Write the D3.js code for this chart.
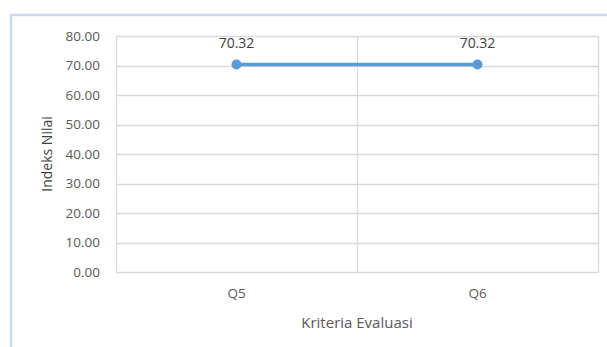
<!DOCTYPE html>
<html>
<head>
<meta charset="utf-8">
<script src="https://cdn.jsdelivr.net/npm/d3@7"></script>
<style>
  html, body { margin: 0; padding: 0; background: #fff; }
  svg { display: block; }
  text { font-family: "Open Sans", "Noto Sans", sans-serif; }
</style>
</head>
<body>
<svg id="chart" width="607" height="347"></svg>
<script>
// Index scores per evaluation criterion
const categories = ["Q5", "Q6"];
const values = [70.32, 70.32];
const yTicks = [0, 10, 20, 30, 40, 50, 60, 70, 80];
const yTitle = "Indeks Nilai";
const xTitle = "Kriteria Evaluasi";

const svg = d3.select("#chart");
const W = 607, H = 347;
const plot = { left: 116, right: 598, top: 36, bottom: 272 };

// outer chart frame
svg.append("rect")
  .attr("x", 11).attr("y", 15)
  .attr("width", W).attr("height", H)
  .attr("fill", "none")
  .attr("stroke", "#c9dbef")
  .attr("stroke-width", 2.5);

const x = d3.scaleBand().domain(categories).range([plot.left, plot.right]);
const y = d3.scaleLinear().domain([0, 80]).range([plot.bottom, plot.top]);

// horizontal gridlines
svg.append("g").selectAll("line").data(yTicks).join("line")
  .attr("x1", plot.left).attr("x2", plot.right)
  .attr("y1", d => Math.round(y(d)) + 0.5).attr("y2", d => Math.round(y(d)) + 0.5)
  .attr("stroke", "#d9d9d9").attr("stroke-width", 1.3);

// vertical category separators
const seps = [plot.left, ...categories.slice(1).map(c => x(c)), plot.right];
svg.append("g").selectAll("line").data(seps).join("line")
  .attr("x1", d => Math.round(d) + 0.5).attr("x2", d => Math.round(d) + 0.5)
  .attr("y1", plot.top).attr("y2", plot.bottom + 0.5)
  .attr("stroke", "#d9d9d9").attr("stroke-width", 1.3);

// y axis tick labels
const yAxis = d3.axisLeft(y).tickValues(yTicks).tickFormat(d3.format(".2f")).tickSize(0).tickPadding(16);
const gy = svg.append("g").attr("transform", `translate(${plot.left},0)`).call(yAxis);
gy.select(".domain").remove();
gy.selectAll("text").attr("font-size", 13.5).attr("fill", "#595959")
  .attr("font-family", "'Open Sans', sans-serif");

// x axis tick labels
const xAxis = d3.axisBottom(x).tickSize(0).tickPadding(16);
const gx = svg.append("g").attr("transform", `translate(0,${plot.bottom})`).call(xAxis);
gx.select(".domain").remove();
gx.selectAll("text").attr("font-size", 13.5).attr("fill", "#595959")
  .attr("font-family", "'Open Sans', sans-serif");

// axis titles
svg.append("text")
  .attr("transform", `translate(52,${(plot.top + plot.bottom) / 2}) rotate(-90)`)
  .attr("text-anchor", "middle")
  .attr("font-size", 14).attr("fill", "#404040")
  .text(yTitle);

svg.append("text")
  .attr("x", (plot.left + plot.right) / 2).attr("y", 328)
  .attr("text-anchor", "middle")
  .attr("font-size", 15).attr("fill", "#595959")
  .text(xTitle);

// series line, markers and value labels
const cx = c => x(c) + x.bandwidth() / 2;
const pts = categories.map((c, i) => ({ c, v: values[i] }));

svg.append("path")
  .datum(pts)
  .attr("d", d3.line().x(d => cx(d.c)).y(d => y(d.v)))
  .attr("fill", "none")
  .attr("stroke", "#5b9bd5")
  .attr("stroke-width", 3.5)
  .attr("stroke-linecap", "round");

svg.append("g").selectAll("circle").data(pts).join("circle")
  .attr("cx", d => cx(d.c)).attr("cy", d => y(d.v))
  .attr("r", 5)
  .attr("fill", "#5b9bd5");

svg.append("g").selectAll("text").data(pts).join("text")
  .attr("x", d => cx(d.c)).attr("y", d => y(d.v) - 17)
  .attr("text-anchor", "middle")
  .attr("font-size", 14).attr("fill", "#404040")
  .text(d => d.v.toFixed(2));
</script>
</body>
</html>
